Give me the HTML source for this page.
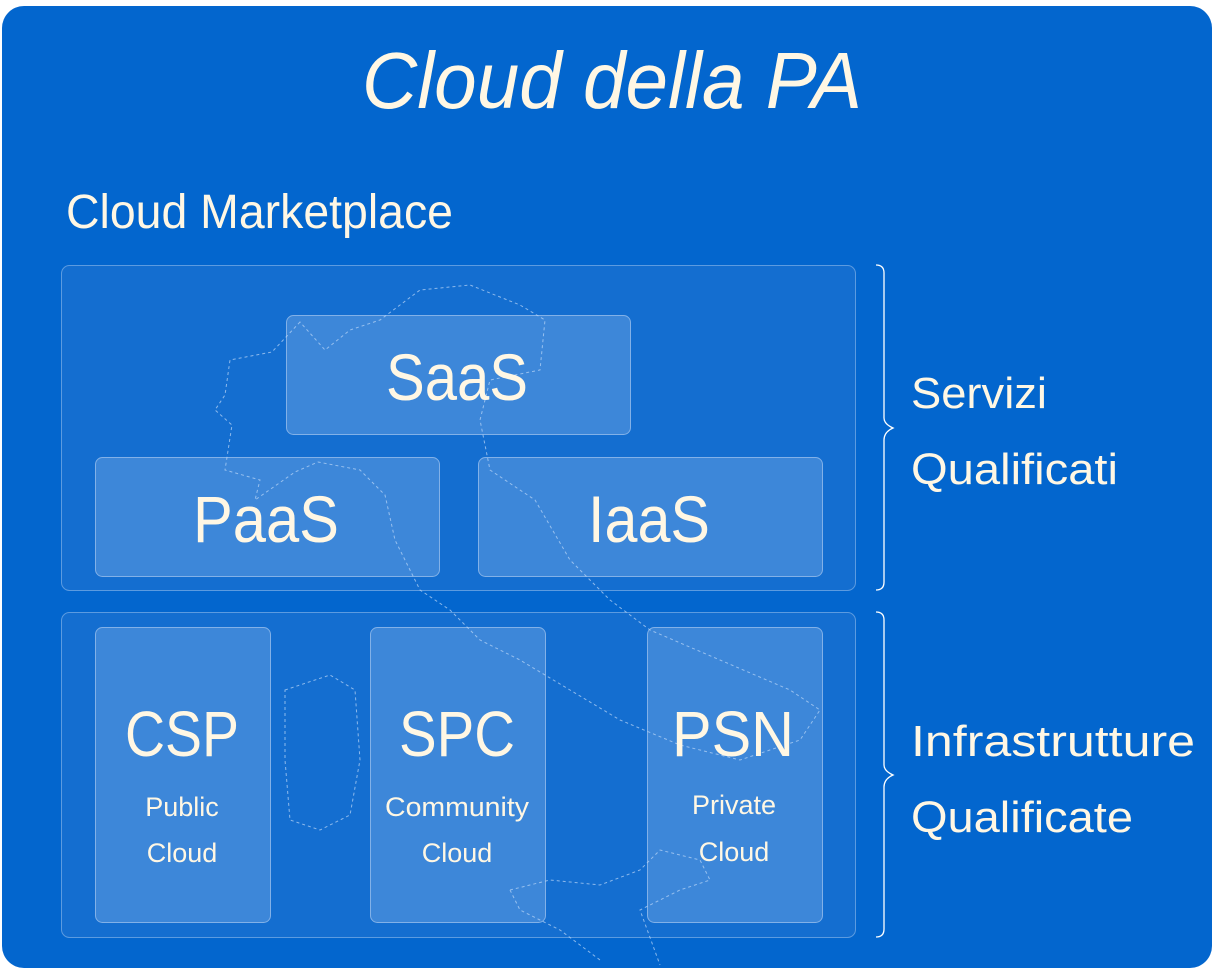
<!DOCTYPE html>
<html><head><meta charset="utf-8"><style>
html,body{margin:0;padding:0;background:#fff;width:1214px;height:976px;overflow:hidden}
svg{display:block}
text{font-family:"Liberation Sans",sans-serif;fill:#FFF7E4}
</style></head><body>
<svg width="1214" height="976" viewBox="0 0 1214 976" xmlns="http://www.w3.org/2000/svg">
<rect x="2" y="6" width="1210" height="962" rx="22" fill="#0366CE"/>
<text x="362" y="108" font-size="80" font-style="italic" textLength="500" lengthAdjust="spacingAndGlyphs">Cloud della PA</text>
<text x="66" y="228" font-size="48" textLength="387" lengthAdjust="spacingAndGlyphs">Cloud Marketplace</text>
<g fill="#146ED0" stroke="#5C9BE0" stroke-width="1">
<rect x="61.5" y="265.5" width="794" height="325" rx="8"/>
<rect x="61.5" y="612.5" width="794" height="325" rx="8"/>
</g>
<g fill="#4189D9" fill-opacity="0.92" stroke="#82B1E8" stroke-width="1">
<rect x="286.5" y="315.5" width="344" height="119" rx="7"/>
<rect x="95.5" y="457.5" width="344" height="119" rx="7"/>
<rect x="478.5" y="457.5" width="344" height="119" rx="7"/>
<rect x="95.5" y="627.5" width="175" height="295" rx="7"/>
<rect x="370.5" y="627.5" width="175" height="295" rx="7"/>
<rect x="647.5" y="627.5" width="175" height="295" rx="7"/>
</g>
<path d="M300 322 L272 352 L230 360 L225 395 L215 410 L232 425 L225 470 L260 480 L255 500 L295 472 L318 462 L360 470 L385 495 L395 540 L420 590 L450 610 L480 640 L520 660 L570 690 L620 720 L680 745 L740 760 L800 740 L820 710 L790 690 L720 660 L650 630 L610 600 L570 560 L535 500 L490 470 L480 420 L490 380 L540 370 L545 320 L520 305 L470 285 L420 290 L400 305 L380 320 L350 330 L325 350 Z M285 690 L330 675 L355 690 L360 760 L350 815 L320 830 L290 820 L285 760 Z M510 890 L550 880 L600 885 L640 870 L660 850 L700 860 L710 880 L680 890 L640 910 L660 965 M510 890 L520 910 L560 930 L600 960" fill="none" stroke="#B5D3F5" stroke-width="1" stroke-dasharray="3,3" opacity="0.75"/>
<text x="386" y="400" font-size="66" textLength="142" lengthAdjust="spacingAndGlyphs">SaaS</text>
<text x="193" y="542" font-size="66" textLength="146" lengthAdjust="spacingAndGlyphs">PaaS</text>
<text x="588" y="542" font-size="66" textLength="122" lengthAdjust="spacingAndGlyphs">IaaS</text>
<g font-size="64" text-anchor="middle">
<text x="182" y="756" textLength="114" lengthAdjust="spacingAndGlyphs">CSP</text>
<text x="457" y="756" textLength="116" lengthAdjust="spacingAndGlyphs">SPC</text>
<text x="733" y="756" textLength="122" lengthAdjust="spacingAndGlyphs">PSN</text>
</g>
<g font-size="27" text-anchor="middle">
<text x="182" y="816">Public</text>
<text x="182" y="862">Cloud</text>
<text x="457" y="816" textLength="144" lengthAdjust="spacingAndGlyphs">Community</text>
<text x="457" y="862">Cloud</text>
<text x="734" y="814">Private</text>
<text x="734" y="861">Cloud</text>
</g>
<g fill="none" stroke="#FFFFFF" stroke-width="1.3">
<path d="M876 265 Q884 265 884 273 L884 418 Q884 424 893 428 Q884 432 884 440 L884 582 Q884 590 876 590"/>
<path d="M876 612 Q884 612 884 620 L884 765 Q884 771 893 775 Q884 779 884 787 L884 929 Q884 937 876 937"/>
</g>
<g font-size="44">
<text x="911" y="408" textLength="136" lengthAdjust="spacingAndGlyphs">Servizi</text>
<text x="911" y="484" textLength="207" lengthAdjust="spacingAndGlyphs">Qualificati</text>
<text x="911" y="756" textLength="284" lengthAdjust="spacingAndGlyphs">Infrastrutture</text>
<text x="911" y="832" textLength="222" lengthAdjust="spacingAndGlyphs">Qualificate</text>
</g>
</svg>
</body></html>
